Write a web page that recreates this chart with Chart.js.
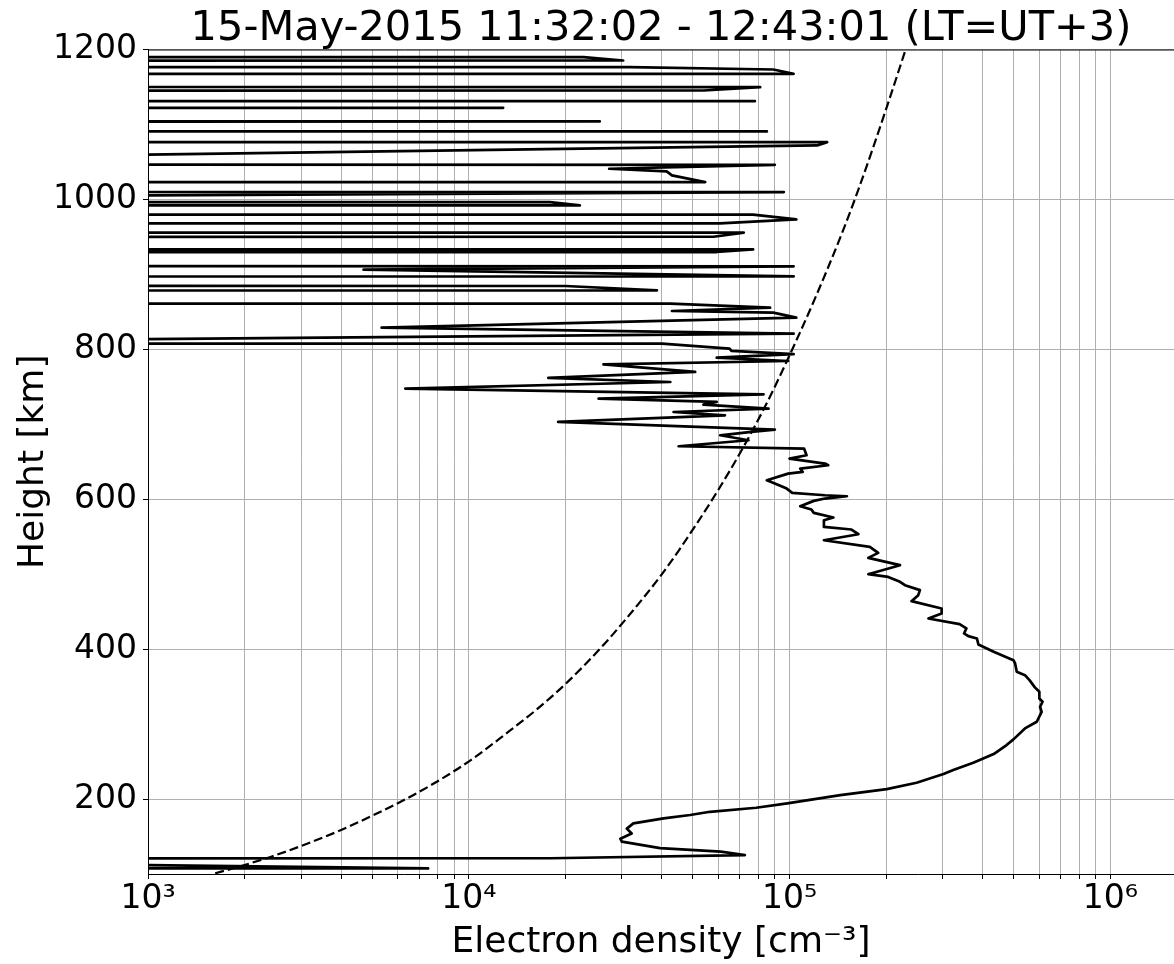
<!DOCTYPE html>
<html>
<head>
<meta charset="utf-8">
<title>Electron density profile</title>
<script src="https://cdn.jsdelivr.net/npm/chart.js@4.4.0/dist/chart.umd.min.js"></script>
<style>
    html, body { margin: 0; padding: 0; background: #fff; }
    #wrap { width: 1174px; height: 964px; }
</style>
</head>
<body>
<div id="wrap"><canvas id="chart" width="1174" height="964"></canvas></div>
<script>
// Measured profile, bottom to top. 0 = reading at/below zero (clipped off the left edge),
// 100 = a reading below the axis minimum.
const PROFILE_HEIGHT = [
    100, 107.5, 117, 119, 121, 125.3, 129.8, 134.5, 143.1, 147, 154, 160.5, 167.5, 174.2, 178.7, 183,
    188.4, 194.2, 205.3, 213.3, 221.8, 233.3, 238.7, 248.4, 260, 272, 279.6, 294.2, 303.1, 316.4,
    323.1, 329.8, 334.2, 343.1, 349, 358.7, 365.3, 369.8, 380.9, 385.3, 396.4, 406.2, 414.2, 417.3,
    420.9, 427.6, 433.3, 440.9, 447.6, 454.2, 464, 472, 478.7, 485.3, 489.8, 496.4, 500, 512, 521.8,
    528.4, 536.4, 545.3, 553.3, 559.6, 563.1, 572, 575.6, 581.8, 586.2, 590.7, 597.8, 600.9, 604,
    605.3, 608.4, 614.2, 620.9, 625.3, 634.2, 636.4, 640.9, 645.3, 647.6, 654.2, 658.7, 667.6, 670.7,
    678.7, 685.3, 689.8, 692.9, 703.1, 712, 716.4, 720.9, 726.2, 729.8, 734.2, 740, 747.6, 756.4,
    761.8, 769.8, 780, 784.4, 788.9, 793.5, 797.8, 800.9, 807.6, 809, 810, 820.9, 828.9, 842.2, 849,
    851.1, 855.5, 860.9, 862, 878.7, 884.5, 888, 897.3, 906.3, 910.7, 920, 929.8, 933.3, 940, 950.2,
    955.6, 962, 968, 973.3, 979.6, 986, 992, 996.4, 1000, 1003, 1009.8, 1016, 1023.1, 1032, 1037.3,
    1040.9, 1046.2, 1052, 1054, 1072, 1076.4, 1084, 1090.7, 1097, 1104, 1113, 1122.2, 1127, 1131.1,
    1139, 1145.3, 1149.8, 1158, 1167.6, 1173.3, 1176.4, 1180, 1185.3, 1189.8, 1195
];
const PROFILE_DENSITY = [
    0, 7.47e3, 100, 0, 1.8e4, 7.26e4, 6.1e4, 3.95e4, 3.0e4, 2.97e4, 3.22e4, 3.11e4, 3.26e4, 4.05e4, 4.9e4, 5.65e4,
    7.87e4, 9.84e4, 1.44e5, 2.01e5, 2.49e5, 3.02e5, 3.24e5, 3.74e5, 4.33e5, 4.75e5, 4.99e5, 5.42e5, 5.90e5, 6.11e5,
    6.04e5, 6.15e5, 6.01e5, 6.01e5, 5.82e5, 5.60e5, 5.42e5, 5.11e5, 5.05e5, 4.99e5, 4.33e5, 3.88e5, 3.84e5, 3.61e5,
    3.50e5, 3.56e5, 3.39e5, 2.71e5, 2.98e5, 2.98e5, 2.40e5, 2.52e5, 2.55e5, 2.29e5, 2.21e5, 2.03e5, 1.76e5, 2.21e5, 1.76e5,
    1.89e5, 1.78e5, 1.28e5, 1.64e5, 1.56e5, 1.28e5, 1.28e5, 1.37e5, 1.19e5, 1.17e5, 1.08e5, 1.19e5, 1.29e5, 1.51e5,
    1.29e5, 1.02e5, 9.8e4, 9.0e4, 8.5e4, 9.9e4, 1.10e5, 1.08e5, 1.32e5, 1.29e5, 1.0e5, 1.13e5, 1.11e5, 4.51e4,
    7.45e4, 6.08e4, 7.6e4, 9.0e4, 1.90e4, 6.29e4, 4.35e4, 8.6e4, 5.39e4, 5.93e4, 2.54e4, 8.3e4, 6.34e3, 4.25e4,
    1.77e4, 5.08e4, 2.63e4, 9.9e4, 5.93e4, 1.03e5, 6.6e4, 6.5e4, 4.0e4, 0, 100, 1.03e5, 5.35e3, 1.05e5, 8.9e4,
    4.30e4, 8.7e4, 4.25e4, 0, 3.86e4, 2.0e4, 0, 1.03e5, 4.7e3, 1.03e5, 0, 5.93e4, 7.7e4, 0, 5.8e4,
    7.2e4, 0, 6.07e4, 1.05e5, 7.7e4, 0, 2.22e4, 1.79e4, 0, 100, 9.6e4, 0, 5.46e4, 4.30e4, 4.14e4,
    2.74e4, 9.0e4, 0, 100, 1.22e5, 1.31e5, 0, 8.5e4, 0, 2.56e4, 0, 1.28e4, 0, 7.8e4,
    0, 5.4e4, 8.1e4, 0, 1.03e5, 8.9e4, 3.18e4, 0, 3.03e4, 2.28e4, 0
];

// Dashed reference curve
const MODEL_HEIGHT = [100.9, 112, 123.1, 138.7, 158.7, 178.7, 198.7, 223.1, 252, 287.6, 318.7, 354.2, 400.9,
    438.7, 503.1, 565.3, 607.6, 667.6, 727.6, 776.4, 867.6, 954.2, 1016.4, 1123.1, 1199.6];
const MODEL_DENSITY = [1.62e3, 2.0e3, 2.42e3, 3.06e3, 4.0e3, 5.05e3, 6.28e3, 7.95e3, 1.015e4, 1.31e4, 1.62e4, 2.01e4, 2.57e4,
    3.07e4, 4.05e4, 5.1e4, 5.9e4, 7.14e4, 8.48e4, 9.62e4, 1.2e5, 1.455e5, 1.65e5, 2.01e5, 2.30e5];

// Axes
const X_MIN = 1e3;
const X_MAX = 1.58e6;
const X_DECADES = [3, 4, 5, 6];
const X_MINOR = [2, 3, 4, 5, 6, 7, 8, 9];
const Y_MIN = 100;
const Y_MAX = 1200;
const Y_TICKS = [200, 400, 600, 800, 1000, 1200];

const TITLE = '15-May-2015 11:32:02 - 12:43:01 (LT=UT+3)';
const X_LABEL = 'Electron density [cm\u207B\u00B3]';
const Y_LABEL = 'Height [km]';

const OFF_AXIS = 1e-100;   // where non-positive readings are put, far left of the axis
const SUP = { '0': '\u2070', '1': '\u00B9', '2': '\u00B2', '3': '\u00B3', '4': '\u2074',
              '5': '\u2075', '6': '\u2076', '7': '\u2077', '8': '\u2078', '9': '\u2079' };
const FONT = 'DejaVu Sans';

const xTickValues = [];
X_DECADES.forEach(d => {
    const base = Math.pow(10, d);
    if (base <= X_MAX) xTickValues.push(base);
    X_MINOR.forEach(m => { if (m * base <= X_MAX) xTickValues.push(m * base); });
});

const profile = PROFILE_HEIGHT.map((h, i) => ({ x: PROFILE_DENSITY[i] > 0 ? PROFILE_DENSITY[i] : OFF_AXIS, y: h }));
const model = MODEL_HEIGHT.map((h, i) => ({ x: MODEL_DENSITY[i], y: h }));

// top spine, drawn on top of the data like matplotlib's
const topSpine = {
    id: 'topSpine',
    afterDatasetsDraw(chart) {
        const { ctx, chartArea } = chart;
        ctx.save();
        ctx.strokeStyle = '#000';
        ctx.lineWidth = 1;
        ctx.beginPath();
        ctx.moveTo(chartArea.left, chartArea.top + 0.5);
        ctx.lineTo(chartArea.right, chartArea.top + 0.5);
        ctx.stroke();
        ctx.restore();
    }
};

new Chart(document.getElementById('chart'), {
    type: 'line',
    data: {
        datasets: [
            {
                data: profile,
                borderColor: '#000',
                borderWidth: 2.7,
                borderJoinStyle: 'round',
                pointRadius: 0,
                fill: false,
                tension: 0,
                clip: 0
            },
            {
                data: model,
                borderColor: '#000',
                borderWidth: 2.2,
                borderDash: [9, 4],
                pointRadius: 0,
                fill: false,
                cubicInterpolationMode: 'monotone',
                clip: 0
            }
        ]
    },
    options: {
        responsive: false,
        animation: false,
        events: [],
        layout: { padding: 0 },
        plugins: {
            legend: { display: false },
            tooltip: { enabled: false },
            title: {
                display: true,
                text: TITLE,
                color: '#000',
                fullSize: false,
                font: { family: FONT, size: 41.5, weight: 'normal', lineHeight: 1.0 },
                padding: { top: 8, bottom: 0 }
            }
        },
        scales: {
            x: {
                type: 'logarithmic',
                min: X_MIN,
                max: X_MAX,
                afterBuildTicks: scale => {
                    scale.ticks = xTickValues.map(v => ({ value: v }));
                },
                afterFit: scale => { scale.height = 90; },
                ticks: {
                    autoSkip: false,
                    maxRotation: 0,
                    minRotation: 0,
                    padding: 1,
                    color: '#000',
                    font: { family: FONT, size: 33 },
                    callback: value => {
                        const e = Math.log10(value);
                        if (Math.abs(e - Math.round(e)) > 1e-9) return '';
                        return '10' + String(Math.round(e)).split('').map(c => SUP[c]).join('');
                    }
                },
                grid: {
                    color: '#b0b0b0',
                    lineWidth: 1,
                    tickColor: '#000',
                    tickLength: 5,
                    tickWidth: 1
                },
                border: { display: true, color: '#000', width: 1 },
                title: {
                    display: true,
                    text: X_LABEL,
                    color: '#000',
                    font: { family: FONT, size: 36 },
                    padding: { top: 0, bottom: 0 }
                }
            },
            y: {
                type: 'linear',
                min: Y_MIN,
                max: Y_MAX,
                afterBuildTicks: scale => {
                    scale.ticks = Y_TICKS.map(v => ({ value: v }));
                },
                afterFit: scale => { scale.width = 148; },
                ticks: {
                    padding: 6,
                    color: '#000',
                    font: { family: FONT, size: 33 },
                    callback: value => String(value)
                },
                grid: {
                    color: '#b0b0b0',
                    lineWidth: 1,
                    tickColor: '#000',
                    tickLength: 5,
                    tickWidth: 1
                },
                border: { display: true, color: '#000', width: 1 },
                title: {
                    display: true,
                    text: Y_LABEL,
                    color: '#000',
                    font: { family: FONT, size: 36 },
                    padding: { top: 12, bottom: 0 }
                }
            }
        }
    },
    plugins: [topSpine]
});
</script>
</body>
</html>
